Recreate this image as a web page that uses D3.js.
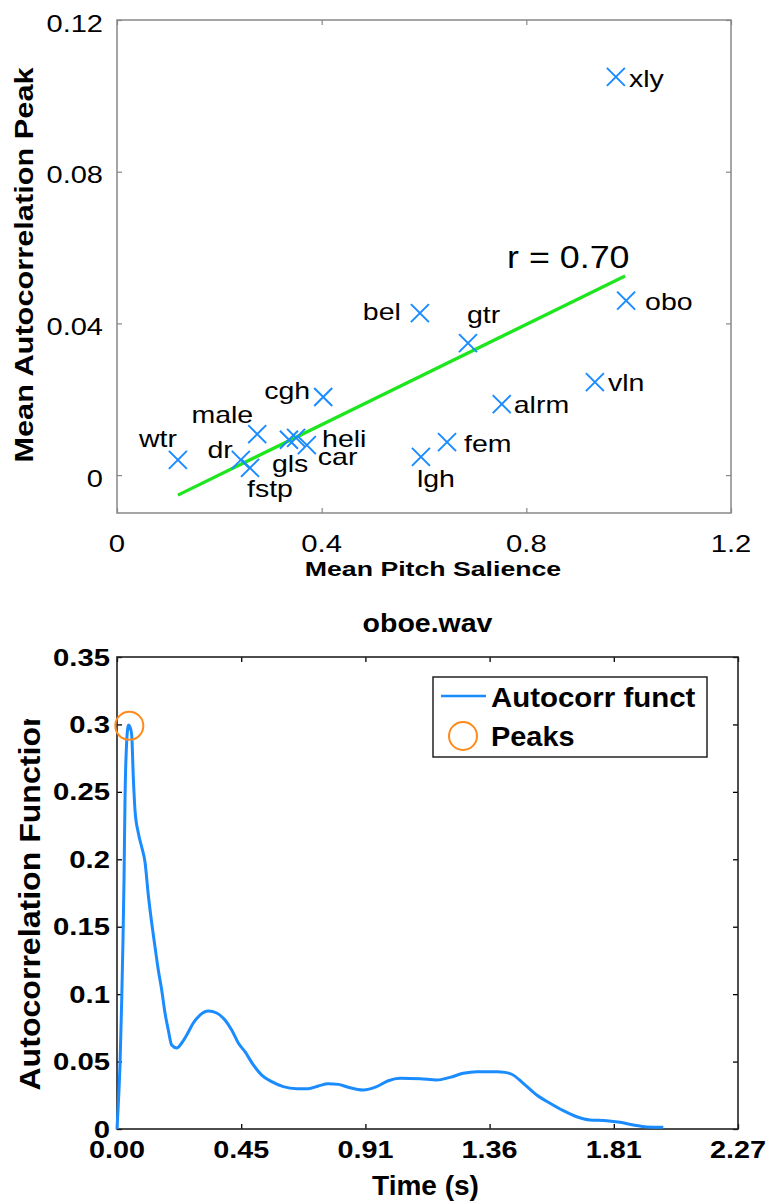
<!DOCTYPE html>
<html><head><meta charset="utf-8">
<script src="https://cdn.jsdelivr.net/npm/d3@7"></script>
<style>body{margin:0;background:#fff} svg{display:block}</style>
</head><body>
<script>
// ---------- Top scatter data ----------
const names    = ["xly","obo","bel","gtr","vln","alrm","fem","lgh","cgh","male","wtr","dr","fstp","gls","heli","car"];
const salience = [0.975,0.995,0.592,0.686,0.934,0.752,0.645,0.594,0.403,0.274,0.119,0.242,0.260,0.336,0.350,0.371];
const acPeak   = [0.105,0.046,0.0427,0.0348,0.0245,0.0187,0.0087,0.0048,0.0206,0.0108,0.0040,0.0040,0.0019,0.0093,0.0098,0.0079];
const fitX = [0.119, 0.993];
const fitY = [-0.0053, 0.0525];
const rLabel = "r = 0.70";
const topXTicks = [0, 0.4, 0.8, 1.2];
const topXTickLabels = ["0","0.4","0.8","1.2"];
const topYTicks = [0, 0.04, 0.08, 0.12];
const topYTickLabels = ["0","0.04","0.08","0.12"];

// ---------- Bottom autocorrelation data ----------
const timeS = [0,0.0037,0.0073,0.011,0.0172,0.0219,0.0256,0.0292,0.0347,0.042,0.0475,0.0537,0.0595,0.0657,0.0778,0.0902,0.1022,0.1143,0.1267,0.1388,0.1508,0.1632,0.1753,0.1873,0.1997,0.218,0.2362,0.2545,0.2786,0.3031,0.3334,0.364,0.3943,0.4188,0.4429,0.4674,0.4977,0.5284,0.5649,0.6072,0.6562,0.6985,0.735,0.7715,0.808,0.8446,0.8993,0.9483,0.9906,1.0333,1.1064,1.1673,1.2159,1.2644,1.3134,1.3864,1.4167,1.4412,1.4835,1.5325,1.581,1.6296,1.6785,1.7271,1.7881,1.8367,1.8852,1.9341,1.9947];
const acf   = [0,0.0141,0.0289,0.0475,0.0957,0.1401,0.1846,0.244,0.2844,0.2996,0.2981,0.2921,0.261,0.2365,0.2195,0.2091,0.198,0.1735,0.1528,0.135,0.1179,0.1031,0.086,0.0734,0.0623,0.0601,0.0638,0.0697,0.0786,0.0845,0.0875,0.086,0.0808,0.0734,0.0638,0.0573,0.0475,0.04,0.0351,0.0314,0.0299,0.0299,0.0319,0.0336,0.0331,0.0309,0.0289,0.0314,0.0358,0.0376,0.0373,0.0363,0.0383,0.0413,0.0425,0.0425,0.042,0.0406,0.0339,0.0252,0.0191,0.0136,0.0091,0.0067,0.0062,0.005,0.003,0.0015,0.0013];
const peakT = [0.045];
const peakV = [0.299];
const botXTicks = [0, 0.4535, 0.907, 1.3605, 1.814, 2.2675];
const botXTickLabels = ["0.00","0.45","0.91","1.36","1.81","2.27"];
const botYTicks = [0, 0.05, 0.1, 0.15, 0.2, 0.25, 0.3, 0.35];
const botYTickLabels = ["0","0.05","0.1","0.15","0.2","0.25","0.3","0.35"];
const legendLabels = ["Autocorr funct","Peaks"];

// ---------- styles ----------
const BLUE = "#1a8cff", ORANGE = "#ff8a1a", GREEN = "#1ee61e";
const FONT = '"Liberation Sans", Arial, Helvetica, sans-serif';

const svg = d3.select("body").append("svg").attr("width",768).attr("height",1202);

function label(g, x, y, txt, o) {
  return g.append("text")
    .attr("transform", `translate(${x},${y})${o.rot ? " rotate(-90)" : ""} scale(${o.sx || 1},1)`)
    .attr("text-anchor", o.anchor || "start")
    .style("font-family", FONT)
    .style("font-weight", o.weight || "normal")
    .style("font-size", o.size + "px")
    .attr("fill", "#000")
    .text(txt);
}

// label placement (layout only): [dx, dy(baseline), anchor]
const place = {
  xly:[13,10,"start"], obo:[19,9,"start"], bel:[-19,7,"end"], gtr:[-1,-20,"start"],
  vln:[13,9,"start"], alrm:[12,9,"start"], fem:[17,10,"start"], lgh:[-4,30,"start"],
  cgh:[-13,2,"end"], male:[-4,-11,"end"], wtr:[-1,-13,"end"], dr:[-8,-2,"end"],
  fstp:[-3,29,"start"], gls:[-17,32,"start"], heli:[26,9,"start"], car:[11,20,"start"]
};

// ================= TOP CHART =================
{
  const L=117, R=731, T=20, B=513;
  const x = d3.scaleLinear().domain([0,1.2]).range([L,R]);
  const y = d3.scaleLinear().domain([-0.01,0.12]).range([B,T]);
  const g = svg.append("g");
  const axCol = "#888";
  const mk = (sel, axis) => { sel.call(axis); sel.select(".domain").remove(); sel.selectAll("text").remove(); sel.selectAll("line").attr("stroke", axCol).attr("stroke-width",1.2); };
  mk(g.append("g").attr("transform",`translate(0,${B})`), d3.axisBottom(x).tickValues(topXTicks).tickSize(-5).tickSizeOuter(0));
  mk(g.append("g").attr("transform",`translate(0,${T})`), d3.axisTop(x).tickValues(topXTicks).tickSize(-5).tickSizeOuter(0));
  mk(g.append("g").attr("transform",`translate(${L},0)`), d3.axisLeft(y).tickValues(topYTicks).tickSize(-5).tickSizeOuter(0));
  mk(g.append("g").attr("transform",`translate(${R},0)`), d3.axisRight(y).tickValues(topYTicks).tickSize(-5).tickSizeOuter(0));
  g.append("rect").attr("x",L).attr("y",T).attr("width",R-L).attr("height",B-T)
    .attr("fill","none").attr("stroke",axCol).attr("stroke-width",1.5);

  topXTicks.forEach((v,i)=>label(g, x(v), 552, topXTickLabels[i], {size:24, anchor:"middle", sx:1.22}));
  topYTicks.forEach((v,i)=>label(g, 103, y(v)+11.5, topYTickLabels[i], {size:24, anchor:"end", sx:1.21}));

  label(g, 433, 576, "Mean Pitch Salience", {size:21, weight:"bold", anchor:"middle", sx:1.27});
  label(g, 33, 265, "Mean Autocorrelation Peak", {size:25, weight:"bold", anchor:"middle", sx:1.23, rot:true});

  // fit line
  g.append("line").attr("x1",x(fitX[0])).attr("y1",y(fitY[0])).attr("x2",x(fitX[1])).attr("y2",y(fitY[1]))
    .attr("stroke",GREEN).attr("stroke-width",3.2);
  label(g, 507, 268, rLabel, {size:32, sx:1.12});

  // markers
  const s = 9;
  names.forEach((n,i)=>{
    const cx = x(salience[i]), cy = y(acPeak[i]);
    g.append("path").attr("d",`M${cx-s},${cy-s}L${cx+s},${cy+s}M${cx-s},${cy+s}L${cx+s},${cy-s}`)
      .attr("stroke",BLUE).attr("stroke-width",2).attr("fill","none");
    const p = place[n];
    label(g, cx+p[0], cy+p[1], n, {size:23, anchor:p[2], sx:1.24});
  });
}

// ================= BOTTOM CHART =================
{
  const L=117, R=738, T=657, B=1129;
  const x = d3.scaleLinear().domain([0,2.2675]).range([L,R]);
  const y = d3.scaleLinear().domain([0,0.35]).range([B,T]);
  const g = svg.append("g");
  const mk = (sel, axis) => { sel.call(axis); sel.select(".domain").remove(); sel.selectAll("text").remove(); sel.selectAll("line").attr("stroke","#000").attr("stroke-width",1.3); };
  mk(g.append("g").attr("transform",`translate(0,${B})`), d3.axisBottom(x).tickValues(botXTicks).tickSize(-5).tickSizeOuter(0));
  mk(g.append("g").attr("transform",`translate(0,${T})`), d3.axisTop(x).tickValues(botXTicks).tickSize(-5).tickSizeOuter(0));
  mk(g.append("g").attr("transform",`translate(${L},0)`), d3.axisLeft(y).tickValues(botYTicks).tickSize(-5).tickSizeOuter(0));
  mk(g.append("g").attr("transform",`translate(${R},0)`), d3.axisRight(y).tickValues(botYTicks).tickSize(-5).tickSizeOuter(0));
  g.append("rect").attr("x",L).attr("y",T).attr("width",R-L).attr("height",B-T)
    .attr("fill","none").attr("stroke","#222").attr("stroke-width",1.6);

  botXTicks.forEach((v,i)=>label(g, x(v), 1158, botXTickLabels[i], {size:24, weight:"bold", anchor:"middle", sx:1.2}));
  botYTicks.forEach((v,i)=>label(g, 110, y(v)+8.6, botYTickLabels[i], {size:24, weight:"bold", anchor:"end", sx:1.22}));

  label(g, 427.5, 632, "oboe.wav", {size:25, weight:"bold", anchor:"middle", sx:1.14});
  label(g, 425.5, 1195, "Time (s)", {size:28, weight:"bold", anchor:"middle", sx:1.0});

  svg.append("defs").append("clipPath").attr("id","yclip").attr("clipPathUnits","userSpaceOnUse")
    .append("rect").attr("x",0).attr("y",719).attr("width",110).attr("height",483);
  const yt = g.append("g").attr("clip-path","url(#yclip)");
  label(yt, 40, 899, "Autocorrelation Function", {size:30, weight:"bold", anchor:"middle", sx:1.07, rot:true});

  const pts = timeS.map((t,i)=>[t, acf[i]]);
  g.append("path").datum(pts)
    .attr("d", d3.line().x(d=>x(d[0])).y(d=>y(d[1])).curve(d3.curveMonotoneX))
    .attr("fill","none").attr("stroke",BLUE).attr("stroke-width",3).attr("stroke-linejoin","round");

  peakT.forEach((t,i)=>g.append("circle").attr("cx",x(t)).attr("cy",y(peakV[i])).attr("r",14)
    .attr("fill","none").attr("stroke",ORANGE).attr("stroke-width",2));

  // legend
  const lg = g.append("g");
  lg.append("rect").attr("x",433).attr("y",677).attr("width",274).attr("height",80)
    .attr("fill","#fff").attr("stroke","#222").attr("stroke-width",1.5);
  lg.append("line").attr("x1",441).attr("x2",486).attr("y1",696).attr("y2",696).attr("stroke",BLUE).attr("stroke-width",2.5);
  lg.append("circle").attr("cx",463).attr("cy",736).attr("r",14).attr("fill","none").attr("stroke",ORANGE).attr("stroke-width",2);
  label(lg, 491, 707, legendLabels[0], {size:27, weight:"bold", sx:1.09});
  label(lg, 491, 746, legendLabels[1], {size:27, weight:"bold", sx:1.07});
}
</script>
</body></html>
